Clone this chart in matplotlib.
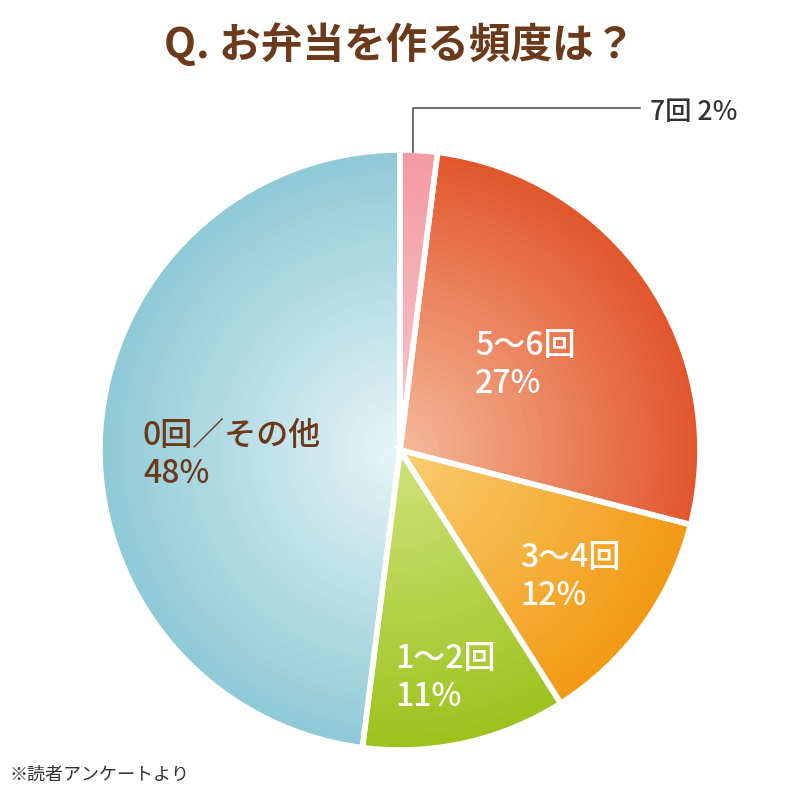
import matplotlib
matplotlib.use("Agg")
import matplotlib.pyplot as plt
import numpy as np
from matplotlib.colors import to_rgb

plt.rcParams['font.family'] = ['Noto Sans CJK JP', 'DejaVu Sans']

labels = ["7回", "5～6回", "3～4回", "1～2回", "0回／その他"]
values = [2, 27, 12, 11, 48]
outer = ["#f39aa3", "#e2562c", "#f29a14", "#9dc21e", "#8fcad6"]
inner = ["#f8c8cc", "#f4b898", "#f9cc70", "#cfe27a", "#e6f4f7"]

fig = plt.figure(figsize=(8, 8), dpi=100)
fig.patch.set_facecolor("white")
ax = fig.add_axes([0.125, 0.0625, 0.75, 0.75])

steps = 40
for i in range(steps):
    t = i / (steps - 1)
    r = 1.0 - 0.97 * t
    cols = [tuple(np.array(to_rgb(o)) * (1 - t) + np.array(to_rgb(n)) * t) for o, n in zip(outer, inner)]
    ax.pie(values, radius=r, colors=cols, startangle=90, counterclock=False,
           wedgeprops=dict(linewidth=0))
ax.pie(values, radius=1.0, colors=["none"] * 5, startangle=90, counterclock=False,
       wedgeprops=dict(linewidth=4, edgecolor="white"))
ax.set_xlim(-1, 1); ax.set_ylim(-1, 1); ax.set_aspect("equal"); ax.axis("off")

brown = "#6b3a1a"
fig.text(0.5, 1 - 45 / 800, "Q. お弁当を作る頻度は？", ha="center", va="center",
         fontsize=30, fontweight="bold", color=brown)

def ft(px, py, s, color="white"):
    ax.text(px / 800, 1 - py / 800, s, ha="left", va="center", fontsize=23,
            color=color, linespacing=1.25, transform=fig.transFigure, zorder=50,
            fontweight="medium", clip_on=False)

ft(475, 365, f"{labels[1]}\n{values[1]}%")
ft(520, 577, f"{labels[2]}\n{values[2]}%")
ft(395, 678, f"{labels[3]}\n{values[3]}%")
ft(143, 455, f"{labels[4]}\n{values[4]}%", color=brown)

fig.add_artist(plt.Line2D([413 / 800, 413 / 800, 640 / 800], [1 - 152 / 800, 1 - 108 / 800, 1 - 108 / 800],
                          color="#555555", linewidth=1.2))
fig.text(650 / 800, 1 - 112 / 800, f"{labels[0]} {values[0]}%", ha="left", va="center",
         fontsize=19, color="#333333", fontweight="medium")

fig.text(10 / 800, 1 - 775 / 800, "※読者アンケートより", ha="left", va="center",
         fontsize=13, color="#333333")

fig.savefig("out.png", dpi=100)
